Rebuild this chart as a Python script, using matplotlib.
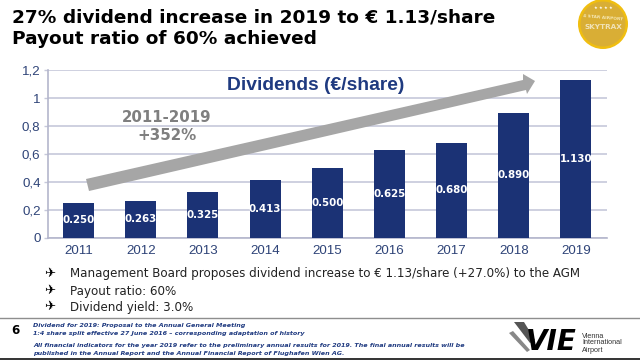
import matplotlib
matplotlib.use("Agg")
import matplotlib.pyplot as plt
from matplotlib.patches import Circle, Polygon

years = ["2011", "2012", "2013", "2014", "2015", "2016", "2017", "2018", "2019"]
dividends = [0.250, 0.263, 0.325, 0.413, 0.500, 0.625, 0.680, 0.890, 1.130]
bar_labels = ["0.250", "0.263", "0.325", "0.413", "0.500", "0.625", "0.680", "0.890", "1.130"]
yticks = [0, 0.2, 0.4, 0.6, 0.8, 1.0, 1.2]
ytick_labels = ["0", "0,2", "0,4", "0,6", "0,8", "1", "1,2"]
bullets = ["Management Board proposes dividend increase to € 1.13/share (+27.0%) to the AGM",
           "Payout ratio: 60%", "Dividend yield: 3.0%"]
notes_top = ["Dividend for 2019: Proposal to the Annual General Meeting",
             "1:4 share split effective 27 June 2016 – corresponding adaptation of history"]
notes_bottom = ["All financial indicators for the year 2019 refer to the preliminary annual results for 2019. The final annual results will be",
                "published in the Annual Report and the Annual Financial Report of Flughafen Wien AG."]

NAVY = "#1B3275"
W, H = 640, 360
fig = plt.figure(figsize=(6.4, 3.6), dpi=100, facecolor="white")

ax = fig.add_axes([47.5 / W, 1 - 237.5 / H, 559.5 / W, 167.2 / H])
ax.set_xlim(-0.5, 8.5)
ax.set_ylim(0, 1.2)
ax.set_axisbelow(True)
ax.grid(axis="y", color="#C6C8DA", lw=1.2)
ax.bar(range(len(years)), dividends, width=0.5, color=NAVY, zorder=3)
for i, (v, s) in enumerate(zip(dividends, bar_labels)):
    ax.text(i, v / 2, s, color="white", ha="center", va="center", fontsize=7.4,
            fontweight="bold", family="DejaVu Sans", zorder=4)
ax.set_xticks(range(len(years)), years)
ax.set_yticks(yticks, ytick_labels)
ax.tick_params(axis="x", length=0, pad=5.5, labelsize=9.6, labelcolor="#2F4478")
ax.tick_params(axis="y", length=3, width=1, color="#C6C8DA", pad=2, labelsize=9.6, labelcolor="#2F4478")
for t in ax.get_xticklabels() + ax.get_yticklabels():
    t.set_family("Liberation Sans")
for name in ["top", "right"]:
    ax.spines[name].set_visible(False)
for name in ["left", "bottom"]:
    ax.spines[name].set_color("#B4B6CC")
    ax.spines[name].set_linewidth(1.2)

ov = fig.add_axes([0, 0, 1, 1], facecolor="none")
ov.set_xlim(0, W)
ov.set_ylim(H, 0)
ov.axis("off")

ov.text(12, 17, "27% dividend increase in 2019 to € 1.13/share", fontsize=13.3, fontweight="bold",
        family="DejaVu Sans", va="center", color="black")
ov.text(12, 39, "Payout ratio of 60% achieved", fontsize=13.3, fontweight="bold",
        family="DejaVu Sans", va="center", color="black")

ov.add_patch(Polygon([(86, 179), (523, 80), (523, 74), (535, 81), (527, 94), (526, 90), (89, 191)],
                     closed=True, fc="#A6A6A6", ec="none", zorder=5))
ov.text(316, 86, "Dividends (€/share)", fontsize=13.9, fontweight="bold", family="Liberation Sans",
        color="#1F3A80", ha="center", va="center", zorder=6)
ov.text(167, 117, "2011-2019", fontsize=10.8, fontweight="bold", family="DejaVu Sans", color="#7F7F7F",
        ha="center", va="center", zorder=6)
ov.text(167, 135, "+352%", fontsize=10.8, fontweight="bold", family="DejaVu Sans", color="#7F7F7F",
        ha="center", va="center", zorder=6)

for y, s in zip([274, 291, 307], bullets):
    ov.text(50, y, "✈", fontsize=9.5, family="DejaVu Sans", color="black", ha="center", va="center")
    ov.text(70, y, s, fontsize=8.55, family="DejaVu Sans", color="#222222", va="center")

ov.plot([0, 640], [317.5, 317.5], color="#8E8E8E", lw=1.0)
ov.plot([0, 640], [358.5, 358.5], color="#333333", lw=1.4)
ov.text(15, 331, "6", fontsize=8.6, fontweight="bold", family="DejaVu Sans", ha="center", va="center", color="black")
for y, s in zip([325.7, 333.3], notes_top):
    ov.text(33, y, s, fontsize=4.6, fontweight="bold", style="italic", family="DejaVu Sans", color="#1F3A80", va="center")
for y, s in zip([345, 353], notes_bottom):
    ov.text(33, y, s, fontsize=4.6, fontweight="bold", style="italic", family="DejaVu Sans", color="#1F3A80", va="center")

# Skytrax badge
ov.add_patch(Circle((603, 24), 25, fc="#F0BE10", ec="none"))
ov.add_patch(Circle((603, 24), 22.5, fc="#D9AE35", ec="none"))
ov.text(603, 8, "★ ★ ★ ★", fontsize=3, family="DejaVu Sans", color="white", ha="center", va="center")
ov.text(603, 18, "4 STAR AIRPORT", fontsize=3.2, fontweight="bold", family="DejaVu Sans", color="#F5E6B0", ha="center", va="center", rotation=-5)
ov.text(603, 27, "SKYTRAX", fontsize=5.2, fontweight="bold", family="DejaVu Sans", color="#F0E2B8", ha="center", va="center")

# VIE logo
ov.add_patch(Polygon([(514, 322), (524, 322), (535, 340), (530, 343)], closed=True, fc="#555555", ec="none"))
ov.add_patch(Polygon([(509, 333), (513, 331), (530, 350), (527, 352)], closed=True, fc="#888888", ec="none"))
ov.text(551, 342, "VIE", fontsize=20, fontweight="bold", style="italic", family="DejaVu Sans", color="black", ha="center", va="center")
for y, s in zip([336, 343, 351], ["Vienna", "International", "Airport"]):
    ov.text(582, y, s, fontsize=5.2, family="Liberation Sans", color="#333333", va="center")

fig.savefig("out.png", dpi=100)
